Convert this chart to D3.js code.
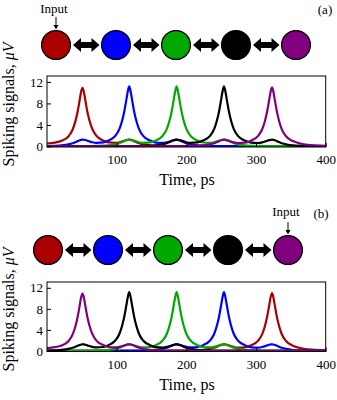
<!DOCTYPE html>
<html><head><meta charset="utf-8">
<script src="https://cdn.jsdelivr.net/npm/d3@7"></script>
<style>body{margin:0;background:#fff} svg{display:block}</style>
</head><body><svg id="c" width="337" height="400"></svg>
<script>
// ---- data (time in ps, signals in µV) ----
const time = [0, 11, 21, 31, 37, 41, 44, 47, 49, 51, 53, 55, 58, 61, 65, 71, 81,
  88, 98, 104, 108, 111, 114, 116, 118, 120, 122, 125, 128, 132, 138, 148,
  156, 166, 172, 176, 179, 182, 184, 186, 188, 190, 193, 196, 200, 206, 216,
  224, 234, 240, 244, 247, 250, 252, 254, 256, 258, 261, 264, 268, 274, 284,
  293, 303, 309, 313, 316, 319, 321, 323, 325, 327, 330, 333, 337, 343, 353,
  365, 380, 400];
// neuron that fires 1st ... 5th
const spike1 = [0.55, 0.72, 1.05, 1.9, 3.2, 4.8, 6.5, 8.7, 10.2, 10.9, 10.1, 8.6, 6.4, 4.8, 3.25, 1.96, 1.09,
  0.75, 0.68, 0.78, 0.94, 1.07, 1.19, 1.25, 1.27, 1.23, 1.15, 0.99, 0.82, 0.6, 0.39, 0.2,
  0.14, 0.1, 0.09, 0.08, 0.08, 0.07, 0.07, 0.07, 0.07, 0.06, 0.06, 0.06, 0.05, 0.05, 0.04,
  0.04, 0.04, 0.03, 0.03, 0.03, 0.03, 0.03, 0.03, 0.03, 0.03, 0.03, 0.03, 0.03, 0.03, 0.02,
  0.02, 0.02, 0.02, 0.02, 0.02, 0.02, 0.02, 0.02, 0.02, 0.02, 0.02, 0.02, 0.02, 0.015, 0.015,
  0.015, 0.01, 0.01];
const spike2 = [0.09, 0.12, 0.2, 0.39, 0.6, 0.82, 0.99, 1.15, 1.23, 1.27, 1.25, 1.19, 1.07, 0.94, 0.78, 0.68, 0.75,
  1.1, 1.98, 3.27, 4.87, 6.57, 8.76, 10.26, 11.16, 10.26, 8.76, 6.56, 4.87, 3.27, 1.98, 1.1,
  0.73, 0.66, 0.77, 0.93, 1.06, 1.18, 1.24, 1.26, 1.22, 1.14, 0.99, 0.82, 0.6, 0.39, 0.2,
  0.14, 0.1, 0.09, 0.08, 0.08, 0.07, 0.07, 0.07, 0.07, 0.06, 0.06, 0.06, 0.05, 0.05, 0.04,
  0.04, 0.04, 0.03, 0.03, 0.03, 0.03, 0.03, 0.03, 0.03, 0.03, 0.03, 0.03, 0.03, 0.03, 0.02,
  0.02, 0.015, 0.015];
const spike3 = [0.02, 0.02, 0.03, 0.045, 0.045, 0.055, 0.055, 0.06, 0.06, 0.065, 0.065, 0.07, 0.075, 0.08, 0.085, 0.1, 0.14,
  0.2, 0.4, 0.61, 0.83, 1.0, 1.15, 1.23, 1.27, 1.25, 1.19, 1.08, 0.95, 0.79, 0.68, 0.75,
  1.1, 1.98, 3.27, 4.87, 6.56, 8.76, 10.26, 11.16, 10.26, 8.76, 6.57, 4.87, 3.27, 1.98, 1.1,
  0.74, 0.67, 0.78, 0.94, 1.07, 1.19, 1.25, 1.27, 1.23, 1.15, 1.0, 0.83, 0.61, 0.4, 0.2,
  0.13, 0.1, 0.09, 0.08, 0.08, 0.07, 0.07, 0.07, 0.07, 0.06, 0.06, 0.06, 0.05, 0.05, 0.04,
  0.035, 0.03, 0.025];
const spike4 = [0.01, 0.01, 0.01, 0.015, 0.015, 0.015, 0.015, 0.015, 0.015, 0.02, 0.02, 0.02, 0.02, 0.02, 0.02, 0.025, 0.025,
  0.035, 0.045, 0.045, 0.05, 0.05, 0.055, 0.055, 0.06, 0.06, 0.065, 0.07, 0.075, 0.085, 0.1, 0.14,
  0.2, 0.4, 0.61, 0.83, 1.0, 1.15, 1.23, 1.27, 1.25, 1.19, 1.08, 0.95, 0.79, 0.68, 0.75,
  1.1, 1.98, 3.27, 4.87, 6.56, 8.76, 10.26, 11.16, 10.26, 8.76, 6.57, 4.87, 3.27, 1.98, 1.1,
  0.7, 0.64, 0.76, 0.92, 1.06, 1.18, 1.24, 1.26, 1.22, 1.14, 0.99, 0.81, 0.6, 0.39, 0.19,
  0.12, 0.09, 0.06];
const spike5 = [0.005, 0.005, 0.005, 0.01, 0.01, 0.01, 0.01, 0.01, 0.01, 0.01, 0.01, 0.01, 0.01, 0.01, 0.01, 0.015, 0.015,
  0.015, 0.015, 0.015, 0.015, 0.015, 0.02, 0.02, 0.02, 0.02, 0.02, 0.02, 0.02, 0.02, 0.02, 0.025,
  0.035, 0.045, 0.045, 0.055, 0.055, 0.06, 0.06, 0.06, 0.065, 0.065, 0.07, 0.075, 0.085, 0.1, 0.14,
  0.19, 0.39, 0.6, 0.81, 0.99, 1.14, 1.22, 1.26, 1.24, 1.18, 1.06, 0.92, 0.76, 0.64, 0.7,
  1.08, 1.96, 3.25, 4.84, 6.54, 8.74, 10.23, 10.98, 10.13, 8.63, 6.43, 4.78, 3.17, 1.9, 1.0,
  0.5, 0.24, 0.12];

const nodeColors = ["#aa0000", "#0000ff", "#00a800", "#000000", "#800080"]; // red, blue, green, black, purple
const seriesA = [spike1, spike2, spike3, spike4, spike5]; // by node colour, input at red
const seriesB = [spike5, spike4, spike3, spike2, spike1]; // by node colour, input at purple
const xTicks = [100, 200, 300, 400];
const yTicks = [0, 4, 8, 12];
const panelLabels = ["(a)", "(b)"];

// ---- drawing ----
const svg = d3.select("#c");
const serif = "'Liberation Serif','DejaVu Serif',serif";

const panels = [
  {label: panelLabels[0], series: seriesA, input: 0, cy: 45, cx0: 56, top: 76, bottom: 147,
   inputText: [54, 12.5], labelPos: [325, 14], ylabY: 104.5},
  {label: panelLabels[1], series: seriesB, input: 4, cy: 250, cx0: 48, top: 282, bottom: 351.5,
   inputText: [286, 215.5], labelPos: [321, 217.5], ylabY: 309.5}
];
const left = 47, right = 325.7, r = 15, step = 60;

panels.forEach((p, pi) => {
  const g = svg.append("g");
  const cxs = nodeColors.map((c, i) => p.cx0 + i * step);
  for (let i = 0; i < 4; i++) {
    const x1 = cxs[i] + r + 2, x2 = cxs[i + 1] - r - 1.5, y = p.cy;
    const hl = 8, hh = 7, sh = 3;
    const pts = [[x1, y], [x1 + hl, y - hh], [x1 + hl, y - sh], [x2 - hl, y - sh], [x2 - hl, y - hh],
      [x2, y], [x2 - hl, y + hh], [x2 - hl, y + sh], [x1 + hl, y + sh], [x1 + hl, y + hh]];
    g.append("path").attr("d", "M" + pts.map(q => q.join(",")).join("L") + "Z").attr("fill", "#000");
  }
  g.selectAll("circle.node").data(nodeColors).join("circle")
    .attr("cx", (d, i) => cxs[i]).attr("cy", p.cy).attr("r", r - 0.6)
    .attr("fill", d => d).attr("stroke", "#000").attr("stroke-width", 1.3);
  const ix = cxs[p.input];
  g.append("line").attr("x1", ix).attr("x2", ix).attr("y1", p.cy - 28).attr("y2", p.cy - 19)
    .attr("stroke", "#000").attr("stroke-width", 1);
  g.append("path").attr("d", `M${ix - 2.5},${p.cy - 20}L${ix + 2.5},${p.cy - 20}L${ix},${p.cy - 15.5}Z`).attr("fill", "#000");
  g.append("text").attr("x", p.inputText[0]).attr("y", p.inputText[1]).attr("text-anchor", "middle")
    .attr("font-family", serif).attr("font-size", 13).text("Input");
  g.append("text").attr("x", p.labelPos[0]).attr("y", p.labelPos[1]).attr("text-anchor", "middle")
    .attr("font-family", serif).attr("font-size", 13).text(p.label);

  const x = d3.scaleLinear().domain([0, 400]).range([left, right]);
  const y = d3.scaleLinear().domain([-0.1, 13.1]).range([p.bottom, p.top]);
  const clipId = "clip" + pi;
  svg.append("clipPath").attr("id", clipId).append("rect")
    .attr("x", left).attr("y", p.top).attr("width", right - left).attr("height", p.bottom - p.top);
  const line = d3.line().x((d, i) => x(time[i])).y(d => y(d)).curve(d3.curveMonotoneX);
  const lg = g.append("g").attr("clip-path", `url(#${clipId})`);
  p.series.forEach((s, ci) => {
    lg.append("path").attr("d", line(s)).attr("fill", "none")
      .attr("stroke", nodeColors[ci]).attr("stroke-width", 2.2).attr("stroke-linejoin", "round");
  });
  g.append("rect").attr("x", left).attr("y", p.top).attr("width", right - left).attr("height", p.bottom - p.top)
    .attr("fill", "none").attr("stroke", "#000").attr("stroke-width", 1);
  const xa = g.append("g").attr("transform", `translate(0,${p.bottom})`)
    .call(d3.axisBottom(x).tickValues(xTicks).tickSizeInner(-4).tickSizeOuter(0).tickPadding(8));
  const ya = g.append("g").attr("transform", `translate(${left},0)`)
    .call(d3.axisLeft(y).tickValues(yTicks).tickSizeInner(-4).tickSizeOuter(0).tickPadding(4));
  [xa, ya].forEach(a => {
    a.select(".domain").remove();
    a.selectAll("text").attr("font-family", serif).attr("font-size", 13).attr("fill", "#000");
    a.selectAll("line").attr("stroke", "#000");
  });
  xa.selectAll("text").attr("dy", "0.71em");
  g.append("text").attr("x", 187).attr("y", p.bottom + 38).attr("text-anchor", "middle")
    .attr("font-family", serif).attr("font-size", 16).text("Time, ps");
  const yl = g.append("text").attr("transform", `translate(14,${p.ylabY}) rotate(-90)`)
    .attr("text-anchor", "middle").attr("font-family", serif).attr("font-size", 16);
  yl.append("tspan").text("Spiking signals, ");
  yl.append("tspan").attr("font-style", "italic").text("μV");
});
</script>
</body></html>
